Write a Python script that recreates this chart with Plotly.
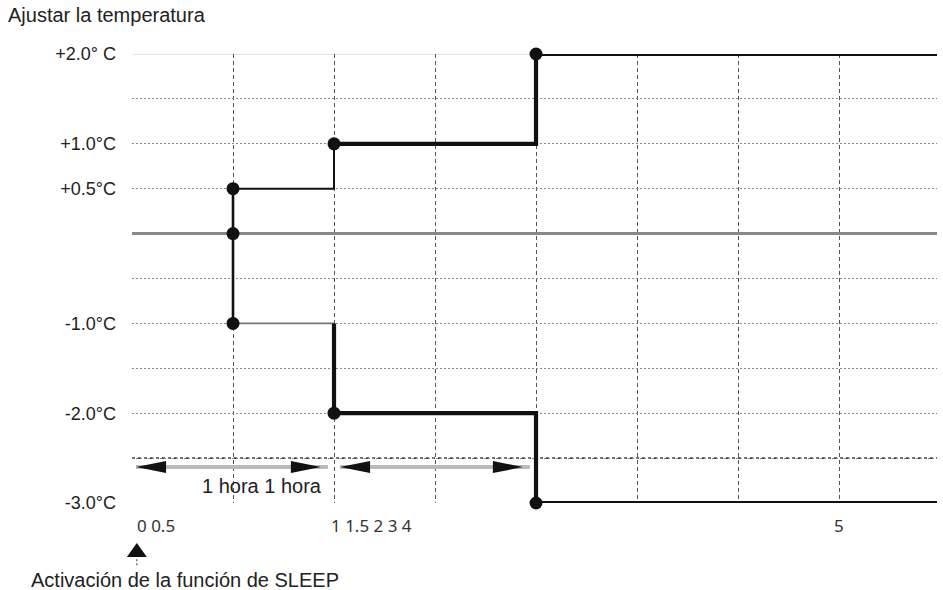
import plotly.graph_objects as go

# Grid units: x = one column of the chart, y = one row of the chart
# Temperature tick labels (non-linear schematic scale)
temp_rows = [4, 2, 1, 0, -2, -4, -6]
temp_labels = ["+2.0° C", "+1.0°C", "+0.5°C", "", "-1.0°C", "-2.0°C", "-3.0°C"]

# Time labels as printed under the chart
time_label_cols = [0, 2, 7]
time_labels = ["0 0.5", "1 1.5 2 3 4", "5"]

# Cooling / heating step profile
warm_thin_x = [1, 2, 2]
warm_thin_y = [1, 1, 2]
warm_thick_x = [2, 4, 4, 7.97]
warm_thick_y = [2, 2, 4, 4]
start_drop_x = [1, 1]
start_drop_y = [1, -2]
cool_thin_x = [1, 2]
cool_thin_y = [-2, -2]
cool_thick_x = [2, 2, 4, 4, 7.97]
cool_thick_y = [-2, -4, -4, -6, -6]

dot_x = [1, 1, 1, 2, 2, 4, 4]
dot_y = [1, 0, -2, 2, -4, 4, -6]

# "1 hora" intervals
interval_start = [0.04, 2.06]
interval_end = [1.94, 3.94]
interval_row = -5.2

X_MAX = 7.97
FONT = "Liberation Sans, Arial, sans-serif"
NUM_FONT = "Noto Sans, sans-serif"


def px_x(col):
    # column -> paper fraction
    return col / X_MAX


fig = go.Figure()


def step(x, y, width, color="#111"):
    fig.add_trace(go.Scatter(x=x, y=y, mode="lines", hoverinfo="skip",
                             line=dict(color=color, width=width)))


step(warm_thin_x, warm_thin_y, 2)
step(warm_thick_x, warm_thick_y, 4.2)
step(start_drop_x, start_drop_y, 2.6)
step(cool_thin_x, cool_thin_y, 1.6, "#777")
step(cool_thick_x, cool_thick_y, 4.2)

fig.add_trace(go.Scatter(x=dot_x, y=dot_y, mode="markers", cliponaxis=False,
                         marker=dict(color="#111", size=13), hoverinfo="skip"))

shapes = [
    # top border line
    dict(type="line", xref="x", yref="y", x0=0, x1=X_MAX, y0=4, y1=4,
         line=dict(color="#ccc", width=1.2), layer="below"),
    # darker dotted row above the bottom
    dict(type="line", xref="x", yref="y", x0=0, x1=X_MAX, y0=-5, y1=-5,
         line=dict(color="#444", width=1.6, dash="dot"), layer="below"),
    # activation arrow below the axis
    dict(type="path", xref="paper", yref="paper", xsizemode="pixel",
         ysizemode="pixel", xanchor=0.006, yanchor=-0.1047,
         path="M-10,-7 L10,-7 L0,7 Z", fillcolor="#111", line=dict(width=0)),
    dict(type="line", xref="paper", yref="paper", x0=0.006, x1=0.006,
         y0=-0.125, y1=-0.14, line=dict(color="#555", width=1.2, dash="2px,2px")),
]
for s, e in zip(interval_start, interval_end):
    shapes.append(dict(type="line", xref="x", yref="y", x0=s, x1=e,
                       y0=interval_row, y1=interval_row,
                       line=dict(color="#bbb", width=4)))
    # arrow heads
    shapes.append(dict(type="path", xref="x", yref="y", xsizemode="pixel",
                       ysizemode="pixel", xanchor=s, yanchor=interval_row,
                       path="M0,0 L30,6 L30,-6 Z", fillcolor="#111",
                       line=dict(width=0)))
    shapes.append(dict(type="path", xref="x", yref="y", xsizemode="pixel",
                       ysizemode="pixel", xanchor=e - 0.07, yanchor=interval_row,
                       path="M0,0 L-30,6 L-30,-6 Z", fillcolor="#111",
                       line=dict(width=0)))

annotations = [
    dict(text="Ajustar la temperatura", xref="paper", yref="paper",
         x=-0.157, y=1.087, xanchor="left", yanchor="middle", showarrow=False,
         font=dict(family=FONT, size=20, color="#222")),
    dict(text="Activación de la función de SLEEP", xref="paper", yref="paper",
         x=-0.128, y=-0.171, xanchor="left", yanchor="middle", showarrow=False,
         font=dict(family=FONT, size=20, color="#222")),
    dict(text="1 hora 1 hora", xref="x", yref="y", x=1.29, y=-5.62,
         xanchor="center", yanchor="middle", showarrow=False,
         font=dict(family=FONT, size=20, color="#222")),
]
label_shift = [0.004, -0.006, 0]
for col, txt, dx in zip(time_label_cols, time_labels, label_shift):
    last = col == time_label_cols[-1]
    annotations.append(dict(text=txt, xref="paper", yref="paper",
                            x=px_x(col) + dx, y=-0.049,
                            xanchor="center" if last else "left",
                            yanchor="middle", showarrow=False,
                            font=dict(family=NUM_FONT, size=17, color="#333")))

fig.update_layout(
    width=943, height=590,
    margin=dict(l=132, r=6, t=54, b=87),
    paper_bgcolor="white", plot_bgcolor="white",
    showlegend=False,
    shapes=shapes,
    annotations=annotations,
    xaxis=dict(range=[0, X_MAX], tickvals=[1, 2, 3, 4, 5, 6, 7],
               showticklabels=False, showgrid=True, gridcolor="#555",
               griddash="4px,3px", gridwidth=1, zeroline=False, showline=False,
               ticks=""),
    yaxis=dict(range=[-6, 4], tickvals=list(range(-6, 5)),
               ticktext=[temp_labels[temp_rows.index(v)] if v in temp_rows else ""
                         for v in range(-6, 5)],
               showgrid=True, gridcolor="#888", griddash="2px,2px", gridwidth=1.3,
               zeroline=True, zerolinecolor="#888", zerolinewidth=2.5,
               showline=False, ticks="", ticklabelstandoff=15,
               tickfont=dict(family=FONT, size=18, color="#222")),
)

fig.write_html("out.html", config={"displayModeBar": False},
               post_script="document.body.style.margin='0';")
